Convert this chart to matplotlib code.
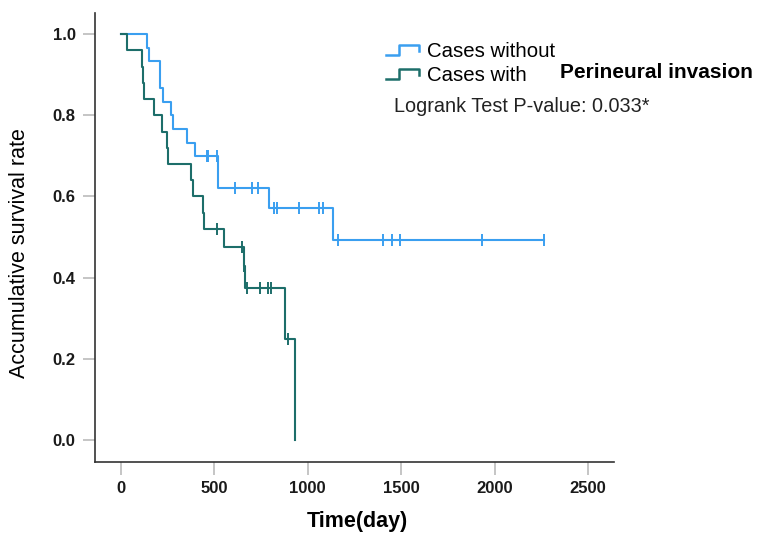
import matplotlib
matplotlib.use("Agg")
import matplotlib.pyplot as plt
import numpy as np
from matplotlib.legend_handler import HandlerBase
from matplotlib.lines import Line2D

plt.rcParams['font.family'] = ['Liberation Sans', 'DejaVu Sans']

# Kaplan-Meier steps (time in days, survival after the step)
without_times = [137, 152, 209, 227, 268, 280, 352, 396, 517, 794, 1137]
without_surv = [0.967, 0.933, 0.867, 0.833, 0.800, 0.767, 0.733, 0.700, 0.622, 0.572, 0.493]
without_censor = [459, 467, 512, 610, 700, 735, 821, 833, 955, 1062, 1083,
                  1163, 1401, 1449, 1494, 1931, 2264]

with_times = [30, 111, 120, 125, 177, 218, 245, 253, 373, 387, 437, 446,
              551, 656, 666, 878, 931]
with_surv = [0.96, 0.92, 0.88, 0.84, 0.80, 0.76, 0.72, 0.68, 0.64, 0.60, 0.56, 0.52,
             0.476, 0.428, 0.374, 0.25, 0.0]
with_censor = [516, 650, 661, 673, 744, 789, 801, 896]

labels = ['Cases without', 'Cases with']
colors = ['#3a9ff0', '#1d6e6a']
yticks = [0.0, 0.2, 0.4, 0.6, 0.8, 1.0]
xticks = [0, 500, 1000, 1500, 2000, 2500]


class StepHandler(HandlerBase):
    def create_artists(self, legend, orig_handle, xdescent, ydescent,
                       width, height, fontsize, trans):
        x0, y0 = -xdescent, -ydescent
        xs = [x0, x0 + 0.4 * width, x0 + 0.4 * width, x0 + width, x0 + width]
        ys = [y0 + 0.15 * height, y0 + 0.15 * height, y0 + 0.85 * height,
              y0 + 0.85 * height, y0 + 0.45 * height]
        ln = Line2D(xs, ys, color=orig_handle.get_color(), lw=1.8, transform=trans)
        return [ln]


def km_curve(times, surv, censor):
    t = np.array([0] + times, dtype=float)
    s = np.array([1.0] + surv)
    if len(censor) and censor[-1] > t[-1]:
        t = np.append(t, censor[-1])
        s = np.append(s, s[-1])
    idx = np.searchsorted(np.array(times), np.array(censor), side='right')
    c_level = np.array([1.0] + surv)[idx]
    return t, s, np.array(censor), c_level


fig = plt.figure(figsize=(7.64, 5.44), dpi=100)
ax = fig.add_axes([95 / 764, 1 - 462 / 544, 519 / 764, 449 / 544])

handles = []
for times, surv, censor, col, lab in [
        (without_times, without_surv, without_censor, colors[0], labels[0]),
        (with_times, with_surv, with_censor, colors[1], labels[1])]:
    t, s, ct, cl = km_curve(times, surv, censor)
    h, = ax.step(t, s, where='post', color=col, lw=1.5, label=lab)
    ax.plot(ct, cl, ls='none', marker='|', ms=8, mew=1.4, color=col)
    handles.append(h)

ax.set_xlim(-139, 2639)
ax.set_ylim(-0.054, 1.052)
ax.set_xticks(xticks)
ax.set_yticks(yticks)
ax.set_yticklabels([f'{v:.1f}' for v in yticks])
ax.tick_params(axis='both', length=9, width=1.2, color='#bbbbbb',
               labelsize=12, labelcolor='#1a1a1a', pad=5)
for lab in ax.get_xticklabels() + ax.get_yticklabels():
    lab.set_fontweight('bold')
for side in ['top', 'right']:
    ax.spines[side].set_visible(False)
for side in ['left', 'bottom']:
    ax.spines[side].set_color('#333333')
    ax.spines[side].set_linewidth(1.2)

ax.set_xlabel('Time(day)', fontsize=15.5, fontweight='bold')
ax.xaxis.set_label_coords(0.505, -0.11)
ax.set_ylabel('Accumulative survival rate', fontsize=15.5)
ax.yaxis.set_label_coords(-0.125, 0.465)

leg = fig.legend(handles, labels, handler_map={Line2D: StepHandler()},
                 loc='upper left', bbox_to_anchor=(386 / 764, 1 - 42 / 544),
                 frameon=False, fontsize=14.7, handlelength=1.6,
                 handletextpad=0.4, labelspacing=0.25, borderpad=0,
                 borderaxespad=0)

fig.text(560 / 764, 1 - 72 / 544, 'Perineural invasion', fontsize=15,
         fontweight='bold', va='center', ha='left')
fig.text(394 / 764, 1 - 107 / 544, 'Logrank Test P-value: 0.033*', fontsize=14.3,
         color='#222222', va='center', ha='left')

fig.savefig('out.png', dpi=100)
